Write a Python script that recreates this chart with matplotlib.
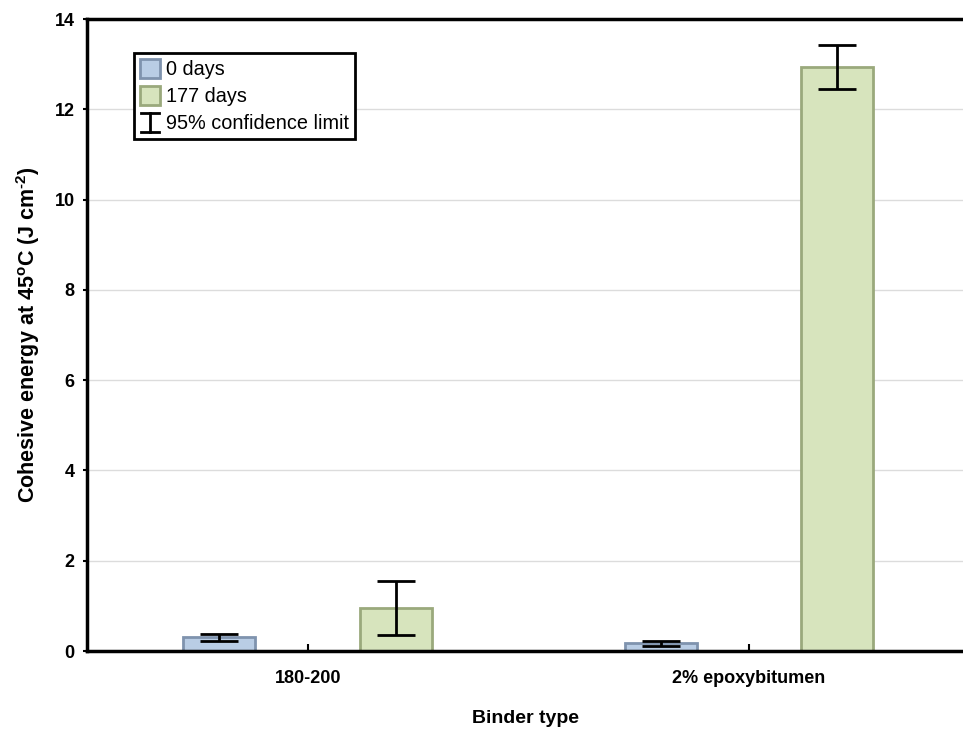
import matplotlib
matplotlib.use("Agg")
import matplotlib.pyplot as plt
import numpy as np
from matplotlib.patches import Patch
from matplotlib.lines import Line2D
from matplotlib.legend_handler import HandlerBase

plt.rcParams['font.family'] = ['Liberation Sans', 'DejaVu Sans']
plt.rcParams['mathtext.fontset'] = 'custom'
plt.rcParams['mathtext.rm'] = 'Liberation Sans:bold'
plt.rcParams['mathtext.it'] = 'Liberation Sans:bold'
plt.rcParams['mathtext.bf'] = 'Liberation Sans:bold'

categories = ["180-200", "2% epoxybitumen"]
series_names = ["0 days", "177 days"]
values_0 = [0.30, 0.17]
err_0 = [0.08, 0.06]
values_177 = [0.95, 12.93]
err_177 = [0.60, 0.49]
yticks = [0, 2, 4, 6, 8, 10, 12, 14]

fill_colors = ["#b9cde5", "#d7e4bd"]
edge_colors = ["#7f93ae", "#9aa97c"]

fig = plt.figure(figsize=(9.63, 7.29), dpi=100)
ax = fig.add_axes([87/963, 1-651/729, 1-87/963, (651-19)/729])

x = np.arange(len(categories))
off = 0.2
w = 0.163
for vals, errs, fc, ec, sgn in [(values_0, err_0, fill_colors[0], edge_colors[0], -1),
                                (values_177, err_177, fill_colors[1], edge_colors[1], 1)]:
    ax.bar(x + sgn*off, vals, width=w, color=fc, edgecolor=ec, linewidth=2, zorder=2)
    ax.errorbar(x + sgn*off, vals, yerr=errs, fmt='none', ecolor='black',
                elinewidth=2, capsize=13.7, capthick=2, zorder=3)

ax.set_xlim(-0.5, 1.485)
ax.set_ylim(0, 14)
ax.set_yticks(yticks)
ax.set_yticklabels([str(t) for t in yticks], fontsize=13, fontweight='bold')
ax.set_xticks(x)
ax.set_xticklabels(categories, fontsize=13, fontweight='bold')
ax.tick_params(axis='x', direction='in', length=5, width=1.5, pad=14)
ax.tick_params(axis='y', direction='out', length=3, width=1.5, pad=6)
ax.yaxis.grid(True, color='#dcdcdc', linewidth=1, zorder=0)
ax.set_axisbelow(True)
for s in ['left', 'bottom', 'top']:
    ax.spines[s].set_linewidth(2.5)
ax.spines['right'].set_visible(False)

ax.set_xlabel("Binder type", fontsize=14, fontweight='bold', labelpad=16)
ax.set_ylabel("Cohesive energy at 45$^{\\rm o}$C (J cm$^{\\rm \u20102}$)", fontsize=15.5,
              fontweight='bold', labelpad=9)


class ErrHandler(HandlerBase):
    def create_artists(self, legend, orig_handle, xdescent, ydescent, width, height, fontsize, trans):
        cx = width*0.5 - xdescent
        y0 = -ydescent
        y1 = -ydescent + height
        hw = width*0.45
        l1 = Line2D([cx, cx], [y0, y1], color='black', lw=2, transform=trans)
        l2 = Line2D([cx-hw, cx+hw], [y0, y0], color='black', lw=2, transform=trans)
        l3 = Line2D([cx-hw, cx+hw], [y1, y1], color='black', lw=2, transform=trans)
        return [l1, l2, l3]


class ErrKey:
    pass


handles = [Patch(facecolor=fill_colors[0], edgecolor=edge_colors[0], linewidth=2),
           Patch(facecolor=fill_colors[1], edgecolor=edge_colors[1], linewidth=2),
           ErrKey()]
labels = [series_names[0], series_names[1], "95% confidence limit"]
leg = ax.legend(handles, labels, loc='upper left', bbox_to_anchor=(47/876, 1-34/632),
                fontsize=14.3, frameon=True, fancybox=False, edgecolor='black',
                framealpha=1, handlelength=1.03, handleheight=1.13, handletextpad=0.3,
                borderpad=0.3, labelspacing=0.32, borderaxespad=0,
                handler_map={ErrKey: ErrHandler()})
leg.get_frame().set_linewidth(2)

fig.savefig("out.png", dpi=100)
